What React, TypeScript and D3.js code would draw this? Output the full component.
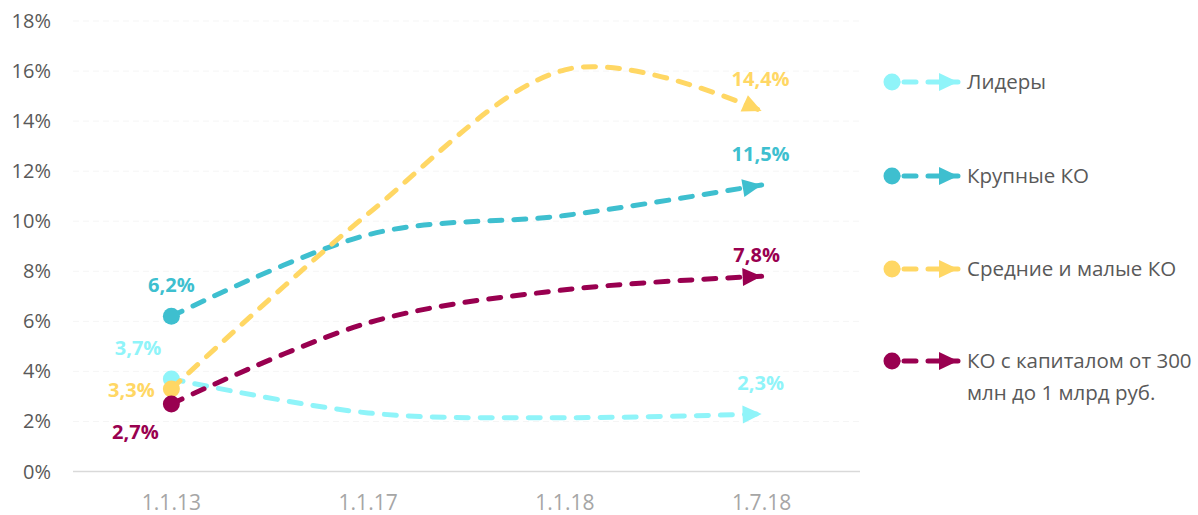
import React from 'react';
import * as d3 from 'd3';

const categories = ['1.1.13', '1.1.17', '1.1.18', '1.7.18'];
const yTicks = [0, 2, 4, 6, 8, 10, 12, 14, 16, 18];

const seriesNames = ['Лидеры', 'Крупные КО', 'Средние и малые КО', 'КО с капиталом от 300 млн до 1 млрд руб.'];
const seriesColors = ['#8ff4f9', '#3ebfcf', '#ffd764', '#990050'];
const leaders = [3.7, 2.34, 2.15, 2.3];
const large = [6.2, 9.46, 10.23, 11.45];
const midSmall = [3.3, 10.3, 16.05, 14.4];
const capital = [2.7, 5.94, 7.26, 7.8];
const startLabels = ['3,7%', '6,2%', '3,3%', '2,7%'];
const endLabels = ['2,3%', '11,5%', '14,4%', '7,8%'];

const W = 1198;
const H = 515;
const FONT = '"Open Sans", sans-serif';

const App: React.FC = () => {
    const x = d3.scalePoint<string>().domain(categories).range([73, 860]).padding(0.5);
    const y = d3.scaleLinear().domain([0, 18]).range([471.5, 21]);

    const allSeries = [leaders, large, midSmall, capital];

    const line = d3.line<number>()
        .x((_, i) => x(categories[i]) as number)
        .y(d => y(d))
        .curve(d3.curveCardinal.tension(0));

    // label offsets relative to start / end points
    const startOffsets = [[-10, 348, 'end'], [0, 285, 'middle'], [-40, 390, 'middle'], [-36, 432, 'middle']];
    const endOffsets = [[-1, 383], [-1, 154], [-1, 79], [-5, 255]];

    const legendY = [82, 176, 269, 361];

    return (
        <svg width={W} height={H} style={{ position: 'absolute', left: 0, top: 0, background: '#fff' }}>
            <defs>
                {seriesColors.map((c, i) => (
                    <marker key={i} id={`arrow${i}`} markerUnits="userSpaceOnUse" markerWidth={22} markerHeight={22}
                        viewBox="0 0 22 22" refX={21} refY={11} orient="auto">
                        <path d="M2,2 L21,11 L2,20 Z" fill={c} />
                    </marker>
                ))}
            </defs>

            {/* faint grid */}
            {yTicks.slice(1).map(t => (
                <line key={t} x1={73} x2={860} y1={y(t)} y2={y(t)} stroke="#f5f5f5" strokeWidth={1} strokeDasharray="6 4" />
            ))}
            <line x1={73} x2={860} y1={y(0)} y2={y(0)} stroke="#d9d9d9" strokeWidth={1.5} />

            {yTicks.map(t => (
                <text key={t} x={51} y={y(t)} dy="0.35em" textAnchor="end" fontFamily={FONT} fontSize={20} fill="#595959">{t}%</text>
            ))}
            {categories.map(c => (
                <text key={c} x={x(c)} y={503} dy="0.35em" textAnchor="middle" fontFamily={FONT} fontSize={21} fill="#a6a6a6">{c}</text>
            ))}

            {allSeries.map((s, i) => (
                <g key={i}>
                    <path d={line(s) || ''} fill="none" stroke={seriesColors[i]} strokeWidth={5}
                        strokeDasharray="12 12" strokeLinecap="round" markerEnd={`url(#arrow${i})`} />
                    <circle cx={x(categories[0])} cy={y(s[0])} r={8.5} fill={seriesColors[i]} />
                </g>
            ))}

            {allSeries.map((s, i) => (
                <g key={'l' + i} fontFamily={FONT} fontSize={20} fontWeight={700} fill={seriesColors[i]}>
                    <text x={(x(categories[0]) as number) + (startOffsets[i][0] as number)} y={startOffsets[i][1] as number}
                        dy="0.35em" textAnchor={startOffsets[i][2] as string}>{startLabels[i]}</text>
                    <text x={(x(categories[3]) as number) + endOffsets[i][0]} y={endOffsets[i][1]}
                        dy="0.35em" textAnchor="middle">{endLabels[i]}</text>
                </g>
            ))}

            {seriesNames.map((n, i) => (
                <g key={'lg' + i}>
                    <line x1={892} x2={958} y1={legendY[i]} y2={legendY[i]} stroke={seriesColors[i]} strokeWidth={5}
                        strokeDasharray="12 12" strokeDashoffset={-12} strokeLinecap="round" markerEnd={`url(#arrow${i})`} />
                    <line x1={892} x2={898} y1={legendY[i]} y2={legendY[i]} stroke={seriesColors[i]} strokeWidth={5} strokeLinecap="round" />
                    <circle cx={892} cy={legendY[i]} r={8.5} fill={seriesColors[i]} />
                    {i < 3 ? (
                        <text x={967} y={legendY[i]} dy="0.35em" fontFamily={FONT} fontSize={20.5} fill="#595959">{n}</text>
                    ) : (
                        <text x={967} y={legendY[i]} dy="0.35em" fontFamily={FONT} fontSize={20.5} fill="#595959">
                            <tspan x={967}>КО с капиталом от 300</tspan>
                            <tspan x={967} dy="1.55em">млн до 1 млрд руб.</tspan>
                        </text>
                    )}
                </g>
            ))}
        </svg>
    );
};

export default App;
